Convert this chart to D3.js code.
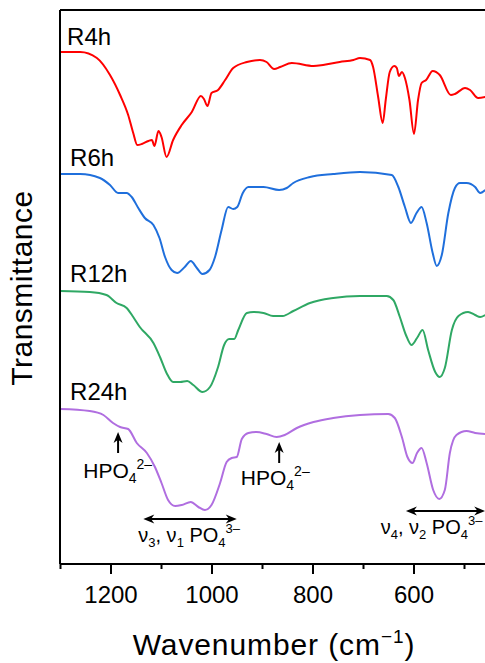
<!DOCTYPE html>
<html>
<head>
<meta charset="utf-8">
<script src="https://cdn.jsdelivr.net/npm/d3@7"></script>
<style>
  html, body { margin: 0; padding: 0; background: #fff; }
  svg { display: block; font-family: Arial, "Liberation Sans", sans-serif; }
</style>
</head>
<body>
<svg id="chart" width="485" height="663"></svg>
<script>
// ---- Data (transmittance, arbitrary units, vertically offset) ----
const seriesNames = ["R4h", "R6h", "R12h", "R24h"];
const seriesColors = ["#ff0000", "#1f6fdc", "#2fa864", "#b06ee0"];

const wn4 = [1300,1260,1227,1201,1181,1165,1155,1147,1138,1125,1118,1113,1105,1099,1089,1076,1059,1039,1021,1015,1008,1000,987,973,957,930,904,891,876,864,841,798,779,746,719,706,686,680,670,661,655,647,638,633,629,623,617,608,599,591,584,575,562,548,526,518,498,488,472,458];
const t4  = [511,511,505,488,468,448,430,418,419,422,423,417,432,426,406,423,438,451,467,464,457,470,473,483,495,501,503,501,494,496,500,497,498,501,503,505,503,496,466,440,463,491,497,495,487,491,485,463,429,463,480,483,492,488,468,469,475,473,465,466];

const wn6 = [1300,1260,1221,1201,1185,1168,1158,1145,1132,1115,1103,1092,1079,1068,1053,1041,1029,1018,1004,993,980,967,957,949,938,927,897,866,851,838,805,759,706,643,630,617,605,594,584,574,562,554,544,531,518,508,495,478,468,458];
const t6  = [389,389,385,378,370,370,366,355,345,338,325,306,293,290,296,302,295,289,293,306,333,356,354,356,370,376,376,373,375,380,386,389,391,388,376,356,340,350,356,340,310,297,308,350,375,380,380,376,370,373];

const wn12 = [1300,1241,1208,1188,1168,1155,1142,1115,1102,1089,1076,1062,1048,1036,1018,1003,987,975,965,955,947,930,917,897,878,859,838,805,759,706,653,640,627,615,604,593,582,571,557,548,538,524,511,492,478,468,458];
const t12  = [272,271,268,260,255,246,236,220,206,190,181,181,182,178,171,176,196,218,224,224,233,250,251,250,247,247,252,260,265,267,267,263,246,228,218,225,233,213,191,186,195,233,247,251,248,246,248];

const wn24 = [1300,1241,1214,1195,1181,1165,1148,1128,1112,1099,1086,1072,1059,1041,1026,1013,1000,983,970,960,950,940,927,911,891,871,855,831,798,759,706,650,637,623,612,602,593,584,574,561,549,538,528,515,495,478,458];
const t24  = [154,152,148,140,136,134,120,110,96,80,63,57,58,61,56,53,58,80,101,105,106,124,130,131,129,126,128,135,141,145,148,149,145,126,106,100,110,115,100,73,64,73,110,128,132,130,129];

const majorTicks = [1200, 1000, 800, 600];
const minorTicks = [1300, 1100, 900, 700, 500];

// ---- Layout ----
const svg = d3.select("#chart");
const x = d3.scaleLinear().domain([1300, 400]).range([60, 514.5]);
const y = d3.scaleLinear().domain([-1, 553]).range([564, 10]);

const series = [
  { name: seriesNames[0], color: seriesColors[0], wn: wn4,  t: t4,  lab: [1286, 518] },
  { name: seriesNames[1], color: seriesColors[1], wn: wn6,  t: t6,  lab: [1280, 397] },
  { name: seriesNames[2], color: seriesColors[2], wn: wn12, t: t12, lab: [1280, 281] },
  { name: seriesNames[3], color: seriesColors[3], wn: wn24, t: t24, lab: [1280, 163] }
];

const line = d3.line()
  .x(d => x(d[0]))
  .y(d => y(d[1]))
  .curve(d3.curveMonotoneX);

series.forEach(s => {
  const pts = s.wn.map((w, i) => [w, s.t[i]]);
  svg.append("path")
    .attr("d", line(pts))
    .attr("fill", "none")
    .attr("stroke", s.color)
    .attr("stroke-width", 2)
    .attr("stroke-linejoin", "round");
  svg.append("text")
    .attr("x", x(s.lab[0]))
    .attr("y", y(s.lab[1]))
    .attr("font-size", 24)
    .attr("fill", "#000")
    .text(s.name);
});

// ---- Frame: top line and left line ----
svg.append("line")
  .attr("x1", x(1300)).attr("x2", 485)
  .attr("y1", y(553)).attr("y2", y(553))
  .attr("stroke", "#000").attr("stroke-width", 2);
svg.append("line")
  .attr("x1", x(1300)).attr("x2", x(1300))
  .attr("y1", y(553)).attr("y2", y(-1))
  .attr("stroke", "#000").attr("stroke-width", 2);

// ---- X axis ----
const xAxis = d3.axisBottom(x).tickValues(majorTicks).tickSize(10).tickPadding(12)
  .tickFormat(d3.format("d"));
const gx = svg.append("g").attr("transform", `translate(0,${y(-1)})`).call(xAxis);
gx.select(".domain").attr("stroke-width", 2).attr("d", `M${x(1300)},0H${x(400)}`);
gx.selectAll(".tick line").attr("stroke-width", 2);
gx.selectAll(".tick text").attr("font-size", 24).attr("font-family", "Arial, 'Liberation Sans', sans-serif").attr("fill", "#000");

const xMinor = d3.axisBottom(x).tickValues(minorTicks).tickSize(5).tickFormat("");
const gm = svg.append("g").attr("transform", `translate(0,${y(-1)})`).call(xMinor);
gm.select(".domain").remove();
gm.selectAll(".tick line").attr("stroke-width", 2);

// ---- Axis titles ----
const xt = svg.append("text")
  .attr("x", 274).attr("y", 655)
  .attr("text-anchor", "middle")
  .attr("font-size", 30)
  .attr("letter-spacing", 0.9)
  .attr("fill", "#000");
xt.append("tspan").text("Wavenumber (cm");
xt.append("tspan").attr("font-size", 19).attr("dy", -12).text("\u22121");
xt.append("tspan").attr("dy", 12).text(")");

svg.append("text")
  .attr("transform", "translate(32,288) rotate(-90)")
  .attr("text-anchor", "middle")
  .attr("font-size", 30)
  .attr("letter-spacing", 0.5)
  .attr("fill", "#000")
  .text("Transmittance");

// ---- Annotations ----
function arrowHead(px, py, dir) {
  const L = 11, W = 4.5;
  const [dx, dy] = dir;
  const bx = px - dx * L, by = py - dy * L;
  const nx = -dy, ny = dx;
  const mx = px - dx * L * 0.7, my = py - dy * L * 0.7;
  return `M${px},${py}L${bx + nx * W},${by + ny * W}L${mx},${my}L${bx - nx * W},${by - ny * W}Z`;
}

function vArrow(w, vFrom, vTo) {
  const px = x(w), y0 = y(vFrom), y1 = y(vTo);
  svg.append("line").attr("x1", px).attr("x2", px).attr("y1", y0).attr("y2", y1 + 6)
    .attr("stroke", "#000").attr("stroke-width", 2);
  svg.append("path").attr("d", arrowHead(px, y1, [0, -1])).attr("fill", "#000");
}

function hArrow(w0, w1, v) {
  const x0 = x(w0), x1 = x(w1), py = y(v);
  svg.append("line").attr("x1", x0 + 6).attr("x2", x1 - 6).attr("y1", py).attr("y2", py)
    .attr("stroke", "#000").attr("stroke-width", 2);
  svg.append("path").attr("d", arrowHead(x0, py, [-1, 0])).attr("fill", "#000");
  svg.append("path").attr("d", arrowHead(x1, py, [1, 0])).attr("fill", "#000");
}

function hpoLabel(w, v) {
  const t = svg.append("text").attr("x", x(w)).attr("y", y(v)).attr("font-size", 21).attr("fill", "#000");
  t.append("tspan").text("HPO");
  t.append("tspan").attr("font-size", 14).attr("dy", 5).text("4");
  t.append("tspan").attr("font-size", 14).attr("dy", -14).text("2\u2013");
}

function pLabel(w, v, a, b) {
  const t = svg.append("text").attr("x", x(w)).attr("y", y(v)).attr("font-size", 20).attr("fill", "#000");
  t.append("tspan").text("\u03bd");
  t.append("tspan").attr("font-size", 13).attr("dy", 5).text(a);
  t.append("tspan").attr("dy", -5).text(", \u03bd");
  t.append("tspan").attr("font-size", 13).attr("dy", 5).text(b);
  t.append("tspan").attr("dy", -5).text(" PO");
  t.append("tspan").attr("font-size", 13).attr("dy", 5).text("4");
  t.append("tspan").attr("font-size", 13).attr("dy", -14).text("3\u2013");
}

vArrow(1185, 110, 131);
hpoLabel(1254, 85);
vArrow(866, 100, 121);
hpoLabel(942, 78);

hArrow(1135, 950, 44);
pLabel(1145, 21, "3", "1");
hArrow(615, 458, 52);
pLabel(665, 29, "4", "2");
</script>
</body>
</html>
